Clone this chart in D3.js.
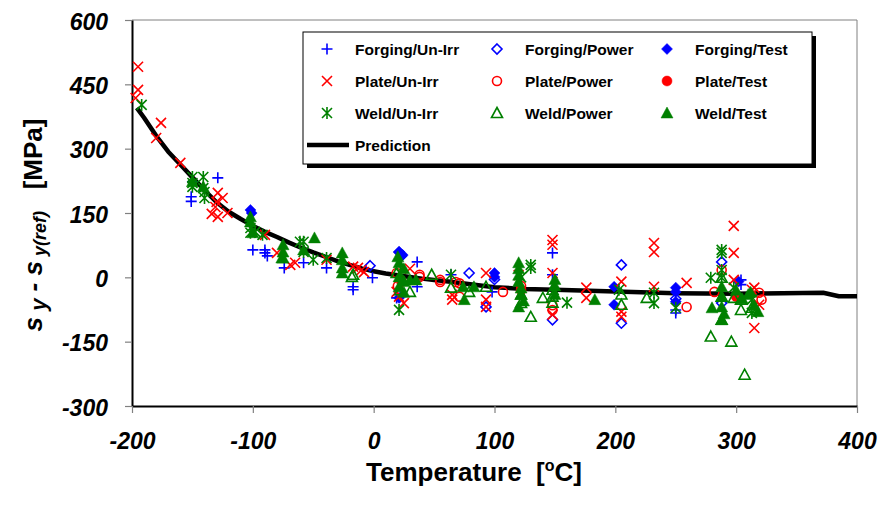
<!DOCTYPE html>
<html lang="en">
<head>
<meta charset="UTF-8">
<script src="https://d3js.org/d3.v7.min.js"></script>
<title>Yield stress vs temperature</title>
<style>
  body { margin: 0; background: #fff; }
  svg { font-family: "Liberation Sans", Arial, sans-serif; }
  .tick text { font-size: 23px; font-weight: bold; font-style: italic; fill: #000; }
  .legend text { font-size: 15.5px; font-weight: bold; }
  .title { white-space: pre; }
</style>
</head>
<body>
<div id="chart"></div>
<script>
// data: [temperature, value]
const forgingUnIrr = [[-151,188],[-151,177],[-150,223],[-129,232],[-100,64],[-90,64],[-90,57],[-88,50],
  [-74,22],[-58,34],[-39,22],[-17,-22],[-17,-29],[-1,-1],[36,36],[36,-22],[19,-48],[64,6],[98,-34],
  [148,57],[148,6],[250,-83],[250,-76],[304,-6],[304,-17],[22,-45]];
const forgingPower = [[-3,27],[21,59],[79,10],[93,-69],[148,-99],[205,29],[205,-107],[288,36],[23,50],
  [100,-5],[288,-60],[250,-50]];
const forgingTest = [[-102,157],[-101,150],[21,59],[21,-48],[100,10],[100,1],[199,-22],[199,-64],
  [250,-24],[250,-34],[250,-57],[302,-10],[24,52]];
const plateUnIrr = [[-195,491],[-195,437],[-197,418],[-176,360],[-180,325],[-160,267],[-129,197],
  [-130,176],[-129,141],[-134,148],[-121,150],[-131,164],[-125,185],[-90,99],[-80,57],[-69,29],[-65,34],
  [-39,41],[-17,25],[-13,22],[-10,17],[-8,12],[19,-34],[21,-45],[65,-41],[65,-52],[93,10],[93,-52],
  [93,-69],[148,87],[148,76],[148,10],[148,-87],[205,-10],[205,-92],[205,-80],[176,-24],[176,-48],
  [232,80],[232,59],[232,-22],[259,-13],[298,120],[298,57],[298,-6],[315,-24],[315,-118],[319,-64],
  [313,-29],[25,-60],[120,5],[30,20]];
const platePower = [[19,10],[38,6],[38,1],[55,-6],[55,-11],[68,-11],[71,-14],[71,-45],[107,-34],
  [148,-76],[148,-65],[259,-69],[282,-34],[288,17],[321,-52],[319,-36],[20,-20],[122,-20]];
const plateTest = [[23,-10],[122,-30],[300,-45]];
const weldUnIrr = [[-192,402],[-150,234],[-150,220],[-150,211],[-141,234],[-141,208],[-140,185],
  [-140,199],[-102,115],[-102,104],[-98,106],[-92,99],[-61,83],[-58,59],[-50,41],[-39,45],[-58,83],
  [21,-76],[64,6],[130,29],[130,22],[160,-59],[203,-29],[232,-36],[232,-60],[250,-71],[288,64],[288,57],
  [288,17],[279,-1],[288,-1],[298,-24],[313,-83],[313,-52],[22,10],[122,0]];
const weldPower = [[-17,6],[-18,1],[48,6],[30,-34],[19,10],[64,-24],[79,-34],[93,-22],[130,-92],
  [140,-48],[148,-29],[148,-59],[205,-64],[226,-48],[279,-138],[296,-150],[307,-227],[288,-99],[288,-45],
  [288,-1],[298,-48],[304,-76],[304,-52],[313,-71],[22,-30],[122,-60],[122,-40],[205,-40],[148,-45]];
const weldTest = [[-150,223],[-141,211],[-102,141],[-102,129],[-100,104],[-75,76],[-75,59],[-75,45],
  [-76,45],[-58,64],[-49,92],[-26,57],[-26,41],[-26,22],[-26,10],[21,34],[21,1],[21,-22],[30,-6],[35,-6],
  [25,20],[25,-10],[25,-35],[20,48],[74,-22],[75,-52],[83,-22],[120,34],[120,20],[120,5],[120,-10],
  [122,-25],[122,-40],[124,-55],[120,-69],[183,-52],[280,-71],[288,-22],[288,-45],[288,-69],[288,-99],
  [290,-85],[300,-30],[305,-50],[310,-40],[315,-65],[318,-80],[312,-35],[150,-20],[150,-40],[150,-5]];

const predT = [-196,-190,-180,-170,-160,-150,-140,-130,-120,-110,-100,-90,-80,-70,-60,-50,-40,-30,-20,
  -10,0,10,20,30,40,50,60,80,100,125,150,200,250,300,372,385,400];
const predV = [395,372,330,293,263,233,203,175,153,136,120,106,94,81,69,58,48,38,29,21,14,9,5,1,-3,-6,
  -9,-16,-23,-27,-29,-33,-37,-38,-36,-44,-44];

const xTicks = [-200,-100,0,100,200,300,400];
const yTicks = [-300,-150,0,150,300,450,600];

const W = 879, H = 508;
const plot = { left: 132, top: 20, right: 857, bottom: 406 };

const svg = d3.select("#chart").append("svg")
  .attr("width", W).attr("height", H);

const x = d3.scaleLinear().domain([-200, 400]).range([plot.left, plot.right]);
const y = d3.scaleLinear().domain([-300, 600]).range([plot.bottom, plot.top]);

// frame (top and right in grey)
svg.append("path")
  .attr("d", `M${plot.left},${plot.top}H${plot.right}V${plot.bottom}`)
  .attr("fill", "none").attr("stroke", "#808080").attr("stroke-width", 1);

// axes (plain hyphen for negatives, like the original)
const fmt = d => String(d);
const yAxis = svg.append("g")
  .attr("transform", `translate(${plot.left},0)`)
  .call(d3.axisLeft(y).tickValues(yTicks).tickFormat(fmt).tickSize(7).tickSizeOuter(0).tickPadding(17));
yAxis.selectAll(".tick text").attr("dy", "0.4em");

svg.append("g")
  .attr("transform", `translate(0,${plot.bottom})`)
  .call(d3.axisBottom(x).tickValues(xTicks).tickFormat(fmt).tickSize(7).tickSizeOuter(0).tickPadding(20));

svg.selectAll(".tick line").attr("stroke", "#808080").attr("stroke-width", 1.2);
svg.selectAll(".domain").attr("stroke", "#000").attr("stroke-width", 2);

// prediction curve
const pred = predT.map((t, i) => [t, predV[i]]);
svg.append("path")
  .datum(pred)
  .attr("fill", "none").attr("stroke", "#000").attr("stroke-width", 4.5)
  .attr("stroke-linejoin", "round")
  .attr("d", d3.line().x(d => x(d[0])).y(d => y(d[1])));

// marker shapes
const shapes = {
  plus: { d: "M-5.5,0H5.5M0,-5.5V5.5", filled: false },
  cross: { d: "M-5,-5L5,5M-5,5L5,-5", filled: false },
  star: { d: "M-5,-5L5,5M-5,5L5,-5M0,-6V6", filled: false },
  diamond: { d: "M0,-5L5,0L0,5L-5,0Z", filled: false },
  diamondF: { d: "M0,-5.5L5.5,0L0,5.5L-5.5,0Z", filled: true },
  circle: { d: "M4.5,0A4.5,4.5 0 1,1 -4.5,0A4.5,4.5 0 1,1 4.5,0Z", filled: false },
  circleF: { d: "M5,0A5,5 0 1,1 -5,0A5,5 0 1,1 5,0Z", filled: true },
  tri: { d: "M0,-5.5L5.5,4.5L-5.5,4.5Z", filled: false },
  triF: { d: "M0,-6L6,5L-6,5Z", filled: true }
};

const series = [
  { name: "Forging/Un-Irr", data: forgingUnIrr, color: "#0000ff", shape: "plus" },
  { name: "Forging/Power", data: forgingPower, color: "#0000ff", shape: "diamond" },
  { name: "Forging/Test", data: forgingTest, color: "#0000ff", shape: "diamondF" },
  { name: "Plate/Un-Irr", data: plateUnIrr, color: "#ff0000", shape: "cross" },
  { name: "Plate/Power", data: platePower, color: "#ff0000", shape: "circle" },
  { name: "Plate/Test", data: plateTest, color: "#ff0000", shape: "circleF" },
  { name: "Weld/Un-Irr", data: weldUnIrr, color: "#008000", shape: "star" },
  { name: "Weld/Power", data: weldPower, color: "#008000", shape: "tri" },
  { name: "Weld/Test", data: weldTest, color: "#008000", shape: "triF" }
];

function styleMarker(sel, s) {
  const sh = shapes[s.shape];
  sel.attr("d", sh.d)
    .attr("fill", sh.filled ? s.color : "none")
    .attr("stroke", s.color)
    .attr("stroke-width", sh.filled ? 0.5 : 1.6);
}

series.forEach(s => {
  svg.append("g").selectAll("path")
    .data(s.data)
    .join("path")
    .attr("transform", d => `translate(${x(d[0])},${y(d[1])})`)
    .call(styleMarker, s);
});

// legend
const lg = svg.append("g").attr("class", "legend");
const box = { x: 303, y: 32, w: 509, h: 132 };
lg.append("rect").attr("x", box.x + 4).attr("y", box.y + 4)
  .attr("width", box.w).attr("height", box.h).attr("fill", "#000");
lg.append("rect").attr("x", box.x).attr("y", box.y)
  .attr("width", box.w).attr("height", box.h)
  .attr("fill", "#fff").attr("stroke", "#000").attr("stroke-width", 1);

const colX = [327, 497, 667];
const rowY = [49, 81, 113, 145];
series.forEach((s, i) => {
  const cx = colX[i % 3], cy = rowY[Math.floor(i / 3)];
  lg.append("path").attr("transform", `translate(${cx},${cy})`).call(styleMarker, s);
  lg.append("text").attr("x", cx + 28).attr("y", cy + 5.5).text(s.name);
});
lg.append("line").attr("x1", 307).attr("x2", 349).attr("y1", rowY[3]).attr("y2", rowY[3])
  .attr("stroke", "#000").attr("stroke-width", 4.5);
lg.append("text").attr("x", 355).attr("y", rowY[3] + 5.5).text("Prediction");

// axis titles
svg.append("text")
  .attr("class", "title")
  .attr("x", 474).attr("y", 481)
  .attr("text-anchor", "middle")
  .style("font-size", "26px").style("font-weight", "bold")
  .call(t => {
    t.append("tspan").text("Temperature  [");
    t.append("tspan").text("o").attr("dy", -10).style("font-size", "16px");
    t.append("tspan").text("C]").attr("dy", 10);
  });

svg.append("text")
  .attr("class", "title")
  .attr("transform", "translate(42,225) rotate(-90)")
  .attr("text-anchor", "middle")
  .style("font-size", "26px").style("font-weight", "bold")
  .call(t => {
    t.append("tspan").text("s").style("font-style", "italic");
    t.append("tspan").text(" y").style("font-style", "italic").attr("dy", 4).style("font-size", "22px");
    t.append("tspan").text(" - s").style("font-style", "italic").attr("dy", -4);
    t.append("tspan").text(" y(ref)").style("font-style", "italic").attr("dy", 4).style("font-size", "18px");
    t.append("tspan").text("   [MPa]").attr("dy", -4);
  });
</script>
</body>
</html>
